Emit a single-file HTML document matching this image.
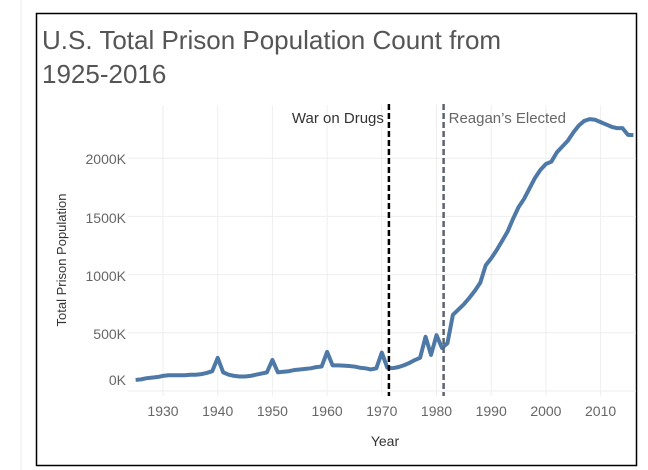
<!DOCTYPE html>
<html><head><meta charset="utf-8"><style>
body{margin:0;width:648px;height:470px;background:#fff;overflow:hidden;font-family:"Liberation Sans",sans-serif}
</style></head><body>
<svg width="648" height="470" style="position:absolute;left:0;top:0">
<line x1="21" y1="0" x2="21" y2="470" stroke="#eee" stroke-width="1"/>
<rect x="36.5" y="13.5" width="600" height="452" fill="none" stroke="#000" stroke-width="1.5"/>
<text x="42" y="49" font-size="26" fill="#555">U.S. Total Prison Population Count from</text>
<text x="42" y="83" font-size="26" fill="#555">1925-2016</text>
<g id="grid"></g>
<g id="marks"></g>
<text transform="translate(66,260) rotate(-90)" text-anchor="middle" font-size="13" fill="#333">Total Prison Population</text>
<text x="385" y="446" text-anchor="middle" font-size="14" fill="#333">Year</text>
</svg>
<script>
const years=[];for(let y=1925;y<=2016;y++)years.push(y);
const values=[95,100,110,115,120,130,135,135,135,135,140,140,145,155,170,285,160,140,130,125,125,130,140,150,160,267,160,165,170,180,185,190,195,205,210,336,220,220,218,215,210,200,195,185,195,330,200,196,205,220,240,265,285,466,310,480,370,410,655,700,745,800,860,930,1080,1140,1210,1290,1370,1480,1580,1650,1740,1830,1900,1950,1970,2050,2100,2150,2220,2280,2320,2336,2330,2310,2290,2270,2258,2258,2200,2198];
const yTicks=[0,500,1000,1500,2000];
const yTickLabels=["0K","500K","1000K","1500K","2000K"];
const yTickLabelY=[380,334,276,218,159];
const xTicks=[1930,1940,1950,1960,1970,1980,1990,2000,2010];
const events=[1971.3,1981.3];
const eventLabels=["War on Drugs","Reagan\u2019s Elected"];
const X=y=>163+(y-1930)*5.47;
const Y=v=>391-v*0.1164;
const ns="http://www.w3.org/2000/svg";
function mk(t,a,p){const e=document.createElementNS(ns,t);for(const k in a)e.setAttribute(k,a[k]);p.appendChild(e);return e;}
const g=document.getElementById('grid'),m=document.getElementById('marks');
yTicks.forEach((v,i)=>{
 const l=mk('line',{x1:128,x2:636,y1:Y(v),y2:Y(v),stroke:'#eeeeee','stroke-width':1},g);
 
 
 const t=mk('text',{x:126,y:yTickLabelY[i]+5,'text-anchor':'end','font-size':14,fill:'#666'},g);
 t.textContent=yTickLabels[i];
 
 
});
xTicks.forEach(yr=>{
 const l=mk('line',{x1:X(yr),x2:X(yr),y1:105,y2:396,stroke:'#eeeeee','stroke-width':1},g);
 
 
 const t=mk('text',{x:X(yr),y:416,'text-anchor':'middle','font-size':14,fill:'#666'},g);
 t.textContent=yr;
 
 
});
const p=mk('polyline',{points:years.map((y,i)=>X(y)+','+Y(values[i])).join(' '),fill:'none',stroke:'#4e79a7','stroke-width':4,'stroke-linejoin':'round'},m);


events.forEach((yr,i)=>{
 const col=i==0?'#000':'#5a6470';
 const l=mk('line',{x1:X(yr),x2:X(yr),y1:104,y2:396,stroke:col,'stroke-width':2.5,'stroke-dasharray':'6,3'},m);
 
 
 const t=mk('text',{x:i==0?X(yr)-5:X(yr)+5,y:123,'text-anchor':i==0?'end':'start','font-size':15,fill:i==0?'#333':'#666'},m);
 t.textContent=eventLabels[i];
 
 
});
</script>
</body></html>
